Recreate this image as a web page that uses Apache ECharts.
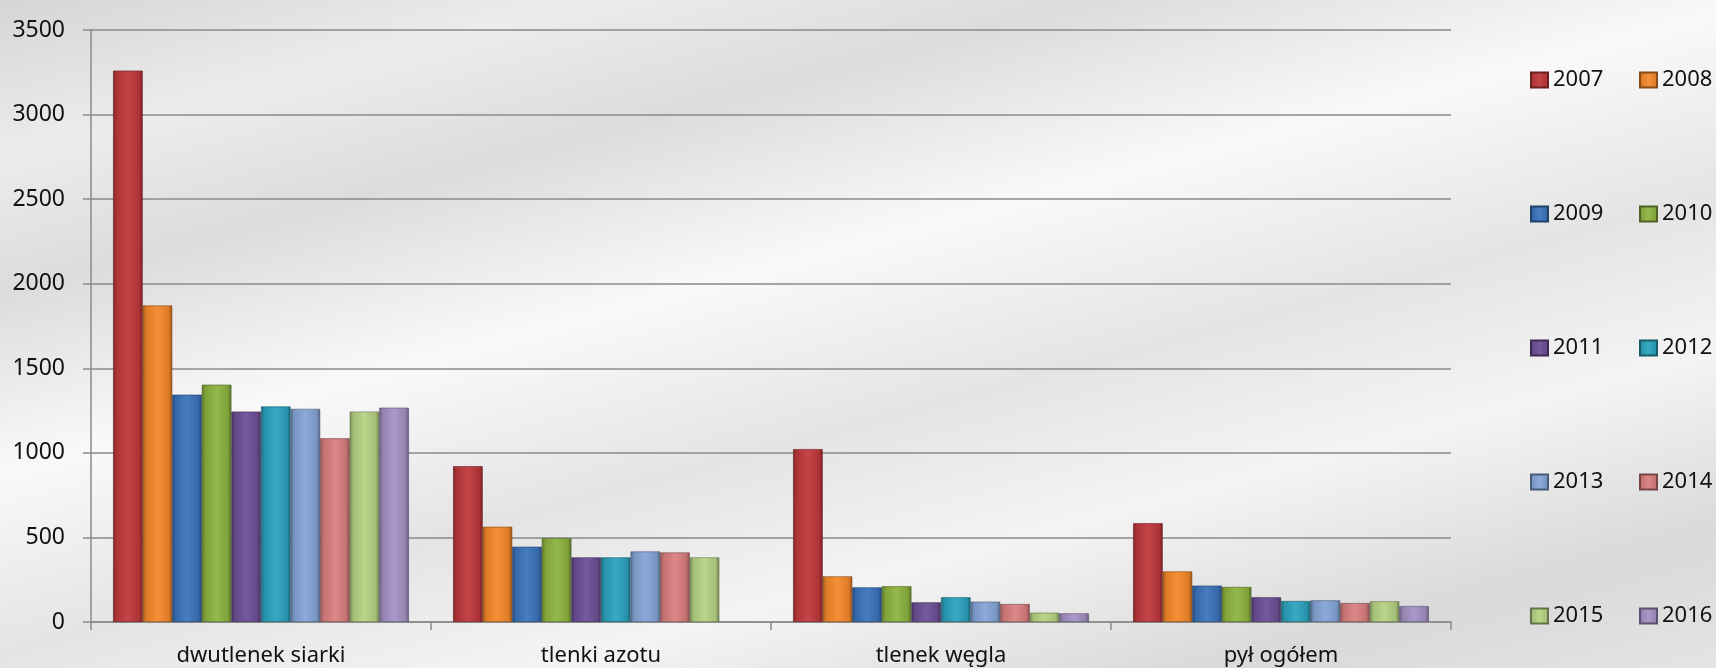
<!DOCTYPE html>
<html>
<head>
<meta charset="utf-8">
<script src="https://cdn.jsdelivr.net/npm/echarts@6/dist/echarts.min.js"></script>
<style>
  html, body { margin: 0; padding: 0; }
  #main {
    width: 1716px; height: 668px;
    background: linear-gradient(165deg, #d5d5d5 0%, #ececec 14%, #dcdcdc 26%, #f9f9f9 42%, #e4e4e4 58%, #f4f4f4 72%, #d9d9d9 88%, #e4e4e4 100%);
  }
</style>
</head>
<body>
<div id="main"></div>
<script>
// kategorie i lata
const categories = ['dwutlenek siarki', 'tlenki azotu', 'tlenek węgla', 'pył ogółem']
const years = ['2007', '2008', '2009', '2010', '2011', '2012', '2013', '2014', '2015', '2016']
const yTicks = [0, 500, 1000, 1500, 2000, 2500, 3000, 3500]

// wartości
const v2007 = [3260, 921, 1022, 584]
const v2008 = [1871, 563, 270, 299]
const v2009 = [1344, 445, 205, 215]
const v2010 = [1403, 496, 211, 207]
const v2011 = [1244, 382, 116, 146]
const v2012 = [1274, 382, 146, 124]
const v2013 = [1260, 417, 120, 128]
const v2014 = [1086, 411, 106, 112]
const v2015 = [1244, 382, 55, 122]
const v2016 = [1267, null, 51, 94]
const values = [v2007, v2008, v2009, v2010, v2011, v2012, v2013, v2014, v2015, v2016]

const colors = ['#c0393c', '#f5892a', '#3b74bd', '#8db43f', '#6e4f98',
  '#2ba3be', '#85a5d8', '#db7f80', '#b6d383', '#a592c6']

function shade(hex, f) {
  let r = parseInt(hex.slice(1, 3), 16), g = parseInt(hex.slice(3, 5), 16), b = parseInt(hex.slice(5, 7), 16)
  const mix = (c) => f < 0 ? Math.round(c * (1 + f)) : Math.round(c + (255 - c) * f)
  return 'rgb(' + mix(r) + ',' + mix(g) + ',' + mix(b) + ')'
}

function barFill(c) {
  return new echarts.graphic.LinearGradient(0, 0, 1, 0, [
    { offset: 0, color: shade(c, -0.35) },
    { offset: 0.12, color: shade(c, -0.1) },
    { offset: 0.5, color: shade(c, 0.06) },
    { offset: 0.88, color: shade(c, -0.1) },
    { offset: 1, color: shade(c, -0.4) },
  ])
}

const series = years.map((y, i) => ({
  name: y,
  type: 'bar',
  data: values[i],
  barGap: 0,
  barCategoryGap: '13%',
  itemStyle: {
    color: barFill(colors[i]),
    borderColor: shade(colors[i], -0.45),
    borderWidth: 0.6,
  },
}))

const font = { fontFamily: 'Noto Sans', fontSize: 22, color: '#111' }
const legendBase = {
  orient: 'vertical',
  top: 69,
  padding: 0,
  itemGap: 112,
  itemWidth: 17,
  itemHeight: 15,
  icon: 'rect',
  textStyle: font,
  selectedMode: false,
}

var myChart = echarts.init(document.getElementById('main'))

var option = {
  animation: false,
  grid: { left: 91, right: 265, top: 30, bottom: 46 },
  legend: [
    Object.assign({ left: 1530, data: years.filter((_, i) => i % 2 === 0) }, legendBase),
    Object.assign({ left: 1639, data: years.filter((_, i) => i % 2 === 1) }, legendBase),
  ],
  xAxis: {
    type: 'category',
    data: categories,
    axisLine: { lineStyle: { color: '#8a8a8a', width: 1.5 } },
    axisTick: { show: true, length: 8, interval: 0, lineStyle: { color: '#8a8a8a', width: 1.5 } },
    axisLabel: Object.assign({ margin: 23 }, font),
  },
  yAxis: {
    type: 'value',
    min: yTicks[0],
    max: yTicks[yTicks.length - 1],
    interval: yTicks[1] - yTicks[0],
    axisLine: { show: true, lineStyle: { color: '#8a8a8a', width: 1.5 } },
    axisTick: { show: true, length: 8, lineStyle: { color: '#8a8a8a', width: 1.5 } },
    axisLabel: Object.assign({ margin: 26, formatter: (v) => String(v) }, font, { fontSize: 23 }),
    splitLine: { lineStyle: { color: '#8a8a8a', width: 1.5 } },
  },
  series: series,
}

myChart.setOption(option)
window.onresize = function () {
  myChart.resize()
}
</script>
</body>
</html>
